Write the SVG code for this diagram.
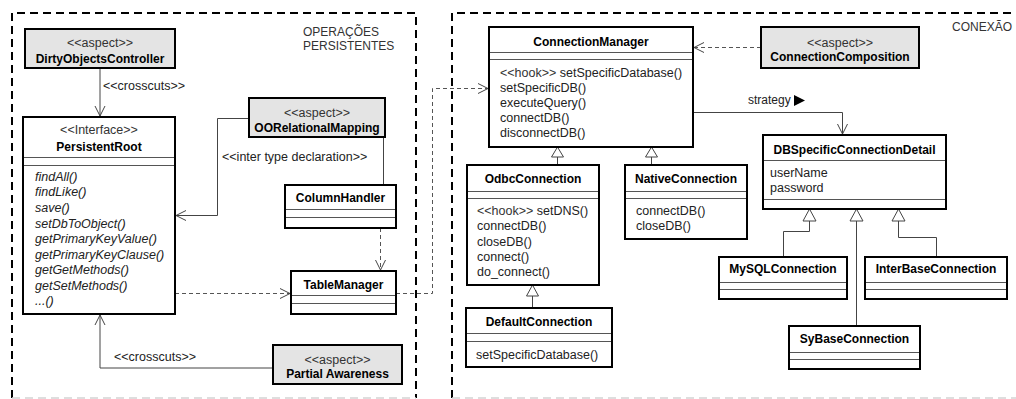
<svg xmlns="http://www.w3.org/2000/svg" width="1016" height="399" viewBox="0 0 1016 399">
<defs>
<style>
text{font-family:"Liberation Sans",Arial,sans-serif;font-size:12.5px;fill:#222}
.p{font-size:12px;fill:#333}
.n{font-weight:bold;font-size:12px;fill:#000;text-anchor:middle}
.s{text-anchor:middle;fill:#333}
.i{font-style:italic}
.box{fill:#fff;stroke:#000;stroke-width:2}
.asp{fill:#e4e4e4;stroke:#000;stroke-width:2}
.sep{stroke:#555;stroke-width:1;fill:none}
.pkg{fill:none;stroke:#000;stroke-width:2;stroke-dasharray:8 5}
.pkgb{fill:none;stroke:#d4d4d4;stroke-width:1.5;stroke-dasharray:8 5}
.ln{fill:none;stroke:#444;stroke-width:1}
.dl{fill:none;stroke:#555;stroke-width:1;stroke-dasharray:4 3}
.tri{fill:#fff;stroke:#444;stroke-width:1}
</style>
<marker id="open" viewBox="0 0 12 12" refX="11" refY="6" markerWidth="12" markerHeight="12" markerUnits="userSpaceOnUse" orient="auto">
<path d="M1,1 L11,6 L1,11" fill="none" stroke="#444" stroke-width="1"/>
</marker>
</defs>

<g id="packages">
<path class="pkg" d="M12,398 V13 H416 V398"/>
<path class="pkgb" d="M12,398 H416"/>
<text class="p" x="303" y="36">OPERAÇÕES</text>
<text class="p" x="303" y="50">PERSISTENTES</text>
<path class="pkg" d="M452,398 V13 H1020"/>
<path class="pkgb" d="M452,398 H1016"/>
<text class="p" x="952" y="31">CONEXÃO</text>
</g>

<g id="connectors">
<path class="ln" d="M100,68 V116" marker-end="url(#open)"/>
<text x="103" y="90">&lt;&lt;crosscuts&gt;&gt;</text>
<path class="ln" d="M273,368 H100 V315" marker-end="url(#open)"/>
<text x="114" y="361">&lt;&lt;crosscuts&gt;&gt;</text>
<path class="ln" d="M249,118.5 H217.5 V215.5 H176" marker-end="url(#open)"/>
<text x="222" y="161">&lt;&lt;inter type declaration&gt;&gt;</text>
<path class="ln" d="M383.5,137 V185"/>
<path class="dl" d="M380.5,228 V270" marker-end="url(#open)"/>
<path class="dl" d="M175,293.5 H290" marker-end="url(#open)"/>
<path class="dl" d="M396,293.5 H432.5 V88.5 H488" marker-end="url(#open)"/>
<path class="dl" d="M761,47.5 H694" marker-end="url(#open)"/>
<path class="ln" d="M693,112.5 H842.5 V134" marker-end="url(#open)"/>
<text x="748" y="104" style="font-size:12px">strategy</text>
<path d="M794,95 L805,100.5 L794,106 Z" fill="#000"/>
<path class="ln" d="M557.5,157 V165"/>
<path class="tri" d="M557.5,147 L563.5,157 L551.5,157 Z"/>
<path class="ln" d="M651.5,157 V165"/>
<path class="tri" d="M651.5,147 L657.5,157 L645.5,157 Z"/>
<path class="ln" d="M532.5,296 V308"/>
<path class="tri" d="M532.5,285 L538.5,296 L526.5,296 Z"/>
<path class="ln" d="M783.5,257 V231.5 H809.5 V221"/>
<path class="tri" d="M809.5,209 L816,221 L803,221 Z"/>
<path class="ln" d="M856.5,326 V221"/>
<path class="tri" d="M856.5,209 L863,221 L850,221 Z"/>
<path class="ln" d="M936.5,257 V237.5 H898.5 V221"/>
<path class="tri" d="M898.5,209 L905,221 L892,221 Z"/>
</g>

<g id="DirtyObjectsController">
<rect class="asp" x="25" y="29" width="150" height="39"/>
<text class="s" x="100" y="47">&lt;&lt;aspect&gt;&gt;</text>
<text class="n" x="100" y="63">DirtyObjectsController</text>
</g>

<g id="PersistentRoot">
<rect class="box" x="23" y="117" width="152" height="197"/>
<text class="s" x="99" y="134">&lt;&lt;Interface&gt;&gt;</text>
<text class="n" x="99" y="151">PersistentRoot</text>
<path class="sep" d="M24,157.5 H174 M24,165.5 H174"/>
<text class="i" x="35" y="181">findAll()</text>
<text class="i" x="35" y="196">findLike()</text>
<text class="i" x="35" y="212">save()</text>
<text class="i" x="35" y="228">setDbToObject()</text>
<text class="i" x="35" y="243">getPrimaryKeyValue()</text>
<text class="i" x="35" y="259">getPrimaryKeyClause()</text>
<text class="i" x="35" y="274">getGetMethods()</text>
<text class="i" x="35" y="290">getSetMethods()</text>
<text class="i" x="35" y="305">...()</text>
</g>

<g id="OORelationalMapping">
<rect class="asp" x="249" y="98" width="136" height="39"/>
<text class="s" x="317" y="117">&lt;&lt;aspect&gt;&gt;</text>
<text class="n" x="317" y="132">OORelationalMapping</text>
</g>

<g id="ColumnHandler">
<rect class="box" x="285" y="185" width="111" height="43"/>
<text class="n" x="340.5" y="202">ColumnHandler</text>
<path class="sep" d="M286,209.5 H395 M286,217.5 H395"/>
</g>

<g id="TableManager">
<rect class="box" x="291" y="271" width="105" height="43"/>
<text class="n" x="343.5" y="289">TableManager</text>
<path class="sep" d="M292,295.5 H395 M292,303.5 H395"/>
</g>

<g id="PartialAwareness">
<rect class="asp" x="273" y="345" width="129" height="39"/>
<text class="s" x="337.5" y="364">&lt;&lt;aspect&gt;&gt;</text>
<text class="n" x="337.5" y="378">Partial Awareness</text>
</g>

<g id="ConnectionManager">
<rect class="box" x="489" y="27" width="204" height="120"/>
<text class="n" x="591" y="46">ConnectionManager</text>
<path class="sep" d="M490,52.5 H692 M490,59.5 H692"/>
<text x="500" y="77"><tspan fill="#333">&lt;&lt;hook&gt;&gt;</tspan> setSpecificDatabase()</text>
<text x="500" y="92">setSpecificDB()</text>
<text x="500" y="107">executeQuery()</text>
<text x="500" y="122">connectDB()</text>
<text x="500" y="137">disconnectDB()</text>
</g>

<g id="ConnectionComposition">
<rect class="asp" x="761" y="27" width="158" height="41"/>
<text class="s" x="840" y="47">&lt;&lt;aspect&gt;&gt;</text>
<text class="n" x="840" y="61">ConnectionComposition</text>
</g>

<g id="OdbcConnection">
<rect class="box" x="467" y="165" width="132" height="120"/>
<text class="n" x="533" y="183">OdbcConnection</text>
<path class="sep" d="M468,191.5 H598 M468,198.5 H598"/>
<text x="477" y="215"><tspan fill="#333">&lt;&lt;hook&gt;&gt;</tspan> setDNS()</text>
<text x="477" y="230">connectDB()</text>
<text x="477" y="246">closeDB()</text>
<text x="477" y="261">connect()</text>
<text x="477" y="276">do_connect()</text>
</g>

<g id="NativeConnection">
<rect class="box" x="625" y="165" width="122" height="74"/>
<text class="n" x="686" y="183">NativeConnection</text>
<path class="sep" d="M626,191.5 H746 M626,198.5 H746"/>
<text x="636" y="215">connectDB()</text>
<text x="636" y="230">closeDB()</text>
</g>

<g id="DefaultConnection">
<rect class="box" x="466" y="308" width="146" height="59"/>
<text class="n" x="539" y="326">DefaultConnection</text>
<path class="sep" d="M467,333.5 H611 M467,341.5 H611"/>
<text x="476" y="359">setSpecificDatabase()</text>
</g>

<g id="DBSpecificConnectionDetail">
<rect class="box" x="763" y="135" width="183" height="74"/>
<text class="n" x="854.5" y="154">DBSpecificConnectionDetail</text>
<path class="sep" d="M764,160.5 H945 M764,199.5 H945"/>
<text x="770" y="177">userName</text>
<text x="770" y="192">password</text>
</g>

<g id="MySQLConnection">
<rect class="box" x="719" y="257" width="128" height="42"/>
<text class="n" x="783" y="273">MySQLConnection</text>
<path class="sep" d="M720,282.5 H846 M720,289.5 H846"/>
</g>

<g id="InterBaseConnection">
<rect class="box" x="865" y="257" width="142" height="42"/>
<text class="n" x="936" y="273">InterBaseConnection</text>
<path class="sep" d="M866,282.5 H1006 M866,289.5 H1006"/>
</g>

<g id="SyBaseConnection">
<rect class="box" x="789" y="326" width="131" height="43"/>
<text class="n" x="854.5" y="343">SyBaseConnection</text>
<path class="sep" d="M790,352.5 H919 M790,359.5 H919"/>
</g>
</svg>
